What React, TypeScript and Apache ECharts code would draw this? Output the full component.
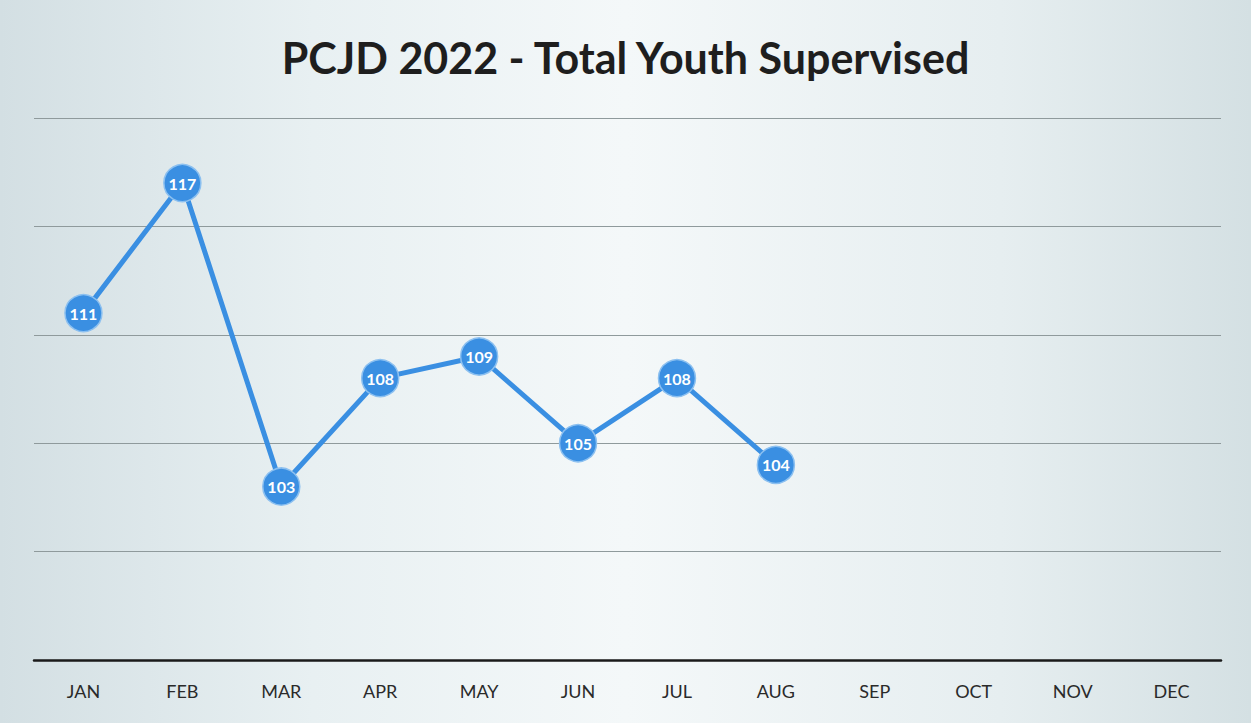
import React, { useEffect, useRef } from "react";
import * as echarts from "echarts";

const months = ["JAN", "FEB", "MAR", "APR", "MAY", "JUN", "JUL", "AUG", "SEP", "OCT", "NOV", "DEC"];
const youthSupervised: (number | null)[] = [111, 117, 103, 108, 109, 105, 108, 104, null, null, null, null];
const yMin = 95;
const yMax = 120;
const yStep = 5;
const titleText = "PCJD 2022 - Total Youth Supervised";

export default function App() {
  const ref = useRef<HTMLDivElement>(null);
  useEffect(() => {
    if (!ref.current) return;
    const chart = echarts.init(ref.current, undefined, { renderer: "svg" });
    chart.setOption({
      animation: false,
      backgroundColor: {
        type: "linear",
        x: 0, y: 0, x2: 1, y2: 0,
        colorStops: [
          { offset: 0, color: "#d3dfe3" },
          { offset: 0.25, color: "#e8f0f2" },
          { offset: 0.5, color: "#f4f8f9" },
          { offset: 0.8, color: "#e6eef0" },
          { offset: 1, color: "#d4e0e3" },
        ],
      },
      title: {
        text: titleText,
        left: "center",
        top: 31,
        textStyle: { fontFamily: "Lato", fontWeight: "bold", fontSize: 43, color: "#1e1e1e" },
      },
      grid: { left: 34, right: 30, top: 118, bottom: 63, containLabel: false },
      xAxis: {
        type: "category",
        data: months,
        boundaryGap: true,
        axisLine: { lineStyle: { color: "#1a1a1a", width: 2.5 } },
        axisTick: { show: false },
        axisLabel: { color: "#2a2a2a", fontSize: 18, fontFamily: "Lato", margin: 22 },
      },
      yAxis: {
        type: "value",
        min: yMin,
        max: yMax,
        interval: yStep,
        axisLabel: { show: false },
        axisLine: { show: false },
        axisTick: { show: false },
        splitLine: { lineStyle: { color: "#8f9a9c", width: 1 } },
      },
      series: [
        {
          type: "line",
          data: youthSupervised,
          symbol: "circle",
          symbolSize: 37,
          lineStyle: { color: "#3a8fe2", width: 5 },
          itemStyle: { color: "#3a8fe2", borderColor: "#8cc0f0", borderWidth: 1.5 },
          label: {
            show: true,
            position: "inside",
            color: "#ffffff",
            fontWeight: "bold",
            fontSize: 16,
            fontFamily: "Lato",
          },
        },
      ],
    });
    return () => chart.dispose();
  }, []);
  return <div ref={ref} style={{ position: "fixed", left: 0, top: 0, width: 1251, height: 723 }} />;
}
